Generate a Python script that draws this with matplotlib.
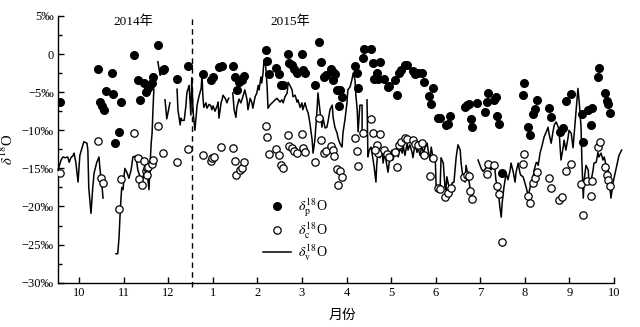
import numpy as np
import matplotlib
matplotlib.use("Agg")
import matplotlib.pyplot as plt
from matplotlib.ticker import MultipleLocator, FixedLocator

plt.rcParams['font.family'] = ['Liberation Serif', 'Noto Sans CJK SC', 'DejaVu Sans']
plt.rcParams['mathtext.fontset'] = 'stix'

# x = month position (0 = Oct 2014, 3 = Jan 2015, 12 = Oct 2015), values in permil
p_month = [-0.43, 0.43, 0.47, 0.52, 0.56, 0.61, 0.74, 0.76, 0.81, 0.90, 0.94, 1.23, 1.32, 1.37,
           1.46, 1.50, 1.55, 1.59, 1.64, 1.66, 1.77, 1.88, 1.91, 2.20, 2.45, 2.78, 2.96, 3.01,
           3.14, 3.21, 3.45, 3.50, 3.54, 3.59, 3.66, 3.70, 4.19, 4.22, 4.26, 4.42, 4.49, 4.53,
           4.58, 4.69, 4.71, 4.78, 4.82, 4.89, 5.00, 5.02, 5.07, 5.29, 5.38, 5.43, 5.50, 5.54,
           5.65, 5.70, 5.74, 5.70, 5.79, 5.85, 5.83, 5.90, 6.19, 6.24, 6.26, 6.37, 6.39, 6.55,
           6.59, 6.75, 6.68, 6.62, 6.71, 6.84, 6.93, 6.95, 7.13, 7.09, 7.18, 7.22, 7.31, 7.36,
           7.49, 7.54, 7.60, 7.69, 7.74, 7.85, 7.90, 7.94, 8.05, 8.10, 8.23, 8.28, 8.32, 8.66,
           8.70, 8.75, 8.79, 8.82, 8.93, 9.11, 9.15, 9.17, 9.31, 9.35, 9.38, 9.42, 9.49, 9.96,
           9.98, 10.07, 10.12, 10.18, 10.23, 10.27, 10.54, 10.59, 10.79, 10.86, 10.92, 11.04,
           11.28, 11.31, 11.42, 11.49, 11.51, 11.64, 11.66, 11.80, 11.84, 11.87, 11.91]
p_val = [-6.3, -2.0, -6.3, -6.8, -7.3, -4.9, -2.5, -5.2, -11.7, -10.2, -6.3, -0.1, -3.4, -6.0,
         -3.8, -5.0, -4.5, -4.1, -3.8, -3.0, 1.2, -2.1, -2.0, -3.3, -1.6, -2.6, -3.4, -3.0,
         -1.7, -1.6, -1.6, -3.0, -4.7, -3.7, -3.4, -2.9, 0.5, -0.9, -2.6, -1.8, -2.6, -4.1,
         -4.1, 0.0, -1.2, -1.4, -2.0, -2.5, 0.0, -2.1, -2.5, -4.1, 1.6, -1.0, -3.0, -2.8,
         -2.0, -2.4, -2.6, -3.4, -4.7, -4.7, -6.8, -5.6, -1.6, -2.5, -4.5, -0.5, 0.7, 0.7,
         -1.2, -1.0, -2.5, -3.3, -3.3, -3.3, -4.3, -4.2, -5.4, -3.4, -2.5, -2.1, -1.4, -1.4,
         -2.2, -2.6, -2.5, -2.5, -3.7, -5.5, -6.6, -4.5, -8.4, -8.4, -9.3, -9.2, -8.1, -7.0,
         -6.7, -6.6, -8.5, -9.6, -6.4, -7.6, -6.3, -5.1, -6.0, -5.6, -8.1, -9.2, -15.6, -5.4,
         -3.8, -9.6, -10.6, -7.9, -7.2, -6.0, -7.1, -8.3, -10.2, -9.7, -6.2, -5.2,
         -7.9, -11.6, -7.3, -9.3, -7.1, -3.0, -1.8, -5.1, -6.2, -6.6, -7.7]

c_month = [-0.43, 0.43, 0.49, 0.54, 0.90, 0.94, 1.23, 1.32, 1.35, 1.41, 1.46, 1.50, 1.53, 1.55,
           1.53, 1.64, 1.66, 1.77, 1.88, 2.20, 2.45, 2.78, 2.96, 2.98, 3.03, 3.19, 3.45, 3.50,
           3.52, 3.61, 3.66, 3.70, 4.19, 4.22, 4.26, 4.42, 4.49, 4.53, 4.58, 4.69, 4.71, 4.78,
           4.82, 4.89, 5.00, 5.02, 5.07, 5.29, 5.38, 5.43, 5.50, 5.54, 5.65, 5.70, 5.72, 5.79,
           5.85, 5.90, 5.81, 6.19, 6.24, 6.26, 6.37, 6.55, 6.59, 6.75, 6.68, 6.71, 6.64, 6.84,
           6.91, 6.95, 7.13, 7.09, 7.18, 7.22, 7.31, 7.36, 7.49, 7.54, 7.60, 7.69, 7.74, 7.87,
           7.94, 8.05, 8.10, 8.21, 8.28, 8.34, 8.64, 8.70, 8.75, 8.77, 8.82, 9.17, 9.15, 9.31,
           9.38, 9.42, 9.49, 9.96, 9.98, 10.07, 10.12, 10.18, 10.23, 10.27, 10.54, 10.59, 10.77,
           10.83, 10.92, 11.04, 11.26, 11.31, 11.40, 11.51, 11.49, 11.64, 11.69, 11.80, 11.84,
           11.87, 11.91]
c_val = [-15.6, -11.4, -16.3, -16.9, -20.3, -16.4, -10.4, -13.6, -16.4, -17.2, -14.0, -15.4, -15.0,
         -14.8, -15.9, -14.4, -13.9, -9.4, -13.0, -14.2, -12.5, -13.3, -14.0, -13.6, -13.5, -12.2,
         -12.3, -14.0, -15.9, -15.2, -15.0, -14.2, -9.4, -10.9, -13.1, -12.5, -13.3, -14.6, -15.0,
         -10.6, -12.1, -12.3, -12.7, -13.0, -10.5, -12.3, -12.9, -14.2, -8.4, -11.3, -13.0, -12.7,
         -12.1, -12.6, -13.4, -15.1, -15.4, -16.1, -17.2, -11.0, -12.7, -14.7, -10.4, -8.5, -10.4,
         -10.5, -11.9, -13.0, -12.6, -12.6, -13.1, -13.5, -14.8, -12.9, -11.9, -11.5, -11.0, -11.2,
         -11.3, -11.8, -11.9, -11.7, -13.3, -16.0, -13.6, -17.6, -17.7, -18.8, -18.2, -17.6, -16.1,
         -15.9, -16.0, -18.0, -19.0, -14.4, -15.7, -14.6, -17.3, -18.4, -24.7, -14.4, -13.1, -18.6,
         -19.6, -16.9, -16.3, -15.5, -16.3, -17.6, -19.2, -18.8, -15.4, -14.4, -17.1, -21.1, -16.7,
         -16.7, -18.6, -12.2, -11.5, -14.8, -15.9, -16.5, -17.3]

# vapour series, nan = no data
nan = np.nan
v_month = [-0.47, -0.40, -0.36, -0.31, -0.25, -0.22, -0.18, -0.13, -0.11, -0.07, -0.02, 0.02, 0.07,
           0.11, 0.18, 0.20, 0.22, 0.27, 0.31, 0.34, 0.40, 0.45, 0.47, 0.52, 0.54, nan,
           0.83, 0.87, 0.90, 0.92, 0.94, 0.96, 0.99, 1.01, 1.03, 1.08, 1.12, 1.17, 1.21, 1.26, 1.30,
           1.32, 1.37, 1.41, 1.44, 1.48, 1.53, 1.57, 1.59, 1.62, 1.64, 1.66, 1.68, nan,
           1.77, 1.82, 1.88, 1.93, nan,
           1.93, 1.97, 2.04, nan,
           2.20, 2.22, 2.27, 2.29, 2.31, 2.36, 2.40, 2.42, 2.47, 2.51, 2.53, 2.56, 2.60, 2.62, 2.65,
           2.69, 2.74, 2.76, 2.78, 2.80, 2.85, 2.87, 2.92, 2.96, 2.98, 3.01, 3.05, 3.10, 3.12, 3.14,
           3.19, 3.21, 3.23, 3.28, 3.32, 3.34, 3.36, nan,
           3.45, 3.48, 3.52, 3.54, 3.59, 3.63, 3.66, 3.72, 3.77, 3.79, 3.84, 3.88, 3.90, 3.95, 3.99,
           4.02, 4.04, 4.08, 4.10, 4.13, 4.15, 4.19, 4.22, 4.24, 4.28, 4.33, 4.40, 4.44, 4.51, 4.55,
           4.58, 4.62, 4.67, 4.69, 4.73, 4.78, 4.80, 4.85, 4.89, 4.91, 4.96, 5.00, 5.02, 5.07, 5.11,
           5.14, 5.18, 5.23, 5.25, 5.29, 5.34, 5.36, 5.41, 5.45, 5.47, 5.52, 5.56, 5.59, 5.63, 5.68,
           5.70, 5.74, 5.79, 5.81, 5.85, 5.90, 5.92, 5.97, 6.01, 6.03, 6.08, 6.12, 6.15, 6.19, 6.21,
           6.24, 6.26, 6.30, 6.35, 6.35, nan,
           6.46, 6.48, 6.51, 6.55, 6.57, 6.62, 6.66, 6.68, 6.71, 6.75, 6.80, 6.82, 6.86, 6.91, 6.93,
           6.98, 7.02, 7.04, 7.09, 7.13, 7.16, 7.20, 7.25, 7.27, 7.31, 7.36, 7.38, 7.42, 7.47, 7.49,
           7.54, 7.58, 7.60, 7.65, 7.69, 7.72, 7.76, 7.81, 7.83, 7.87, 7.90, 7.94, 7.99, 8.01, 8.05,
           8.10, 8.12, 8.17, 8.21, 8.23, 8.25, 8.30, 8.34, 8.37, 8.41, 8.46, 8.50, 8.55, 8.57, 8.61,
           8.66, 8.68, 8.73, 8.77, 8.79, 8.82, nan,
           8.95, 9.02, 9.06, 9.11, 9.15, 9.22, 9.24, 9.29, 9.33, 9.35, 9.40, 9.44, 9.47, 9.49, 9.53,
           9.58, 9.62, 9.67, 9.69, 9.74, 9.78, 9.80, 9.85, 9.89, 9.91, 9.96, 9.98, 10.03, 10.07,
           10.09, 10.14, 10.18, 10.21, 10.25, 10.27, 10.30, 10.34, 10.39, 10.43, 10.48, 10.52,
           10.54, 10.59, 10.63, 10.66, 10.70, 10.75, 10.77, 10.79, 10.81, 10.86, 10.88, 10.92,
           10.97, 10.99, 11.04, 11.08, 11.10, 11.15, 11.19, 11.22, 11.26, 11.28, 11.31, 11.33,
           11.37, 11.42, 11.44, 11.48, 11.53, 11.55, 11.60, 11.64, 11.66, 11.71, 11.75, 11.78,
           11.82, 11.87, 11.89, 11.93, 11.98, 12.04, 12.11, 12.17]
v_val = [-15.2, -13.9, -13.5, -13.6, -13.5, -14.2, -13.6, -13.3, -13.0, -14.2, -16.8, -13.3, -12.3,
         -11.5, -11.7, -12.6, -17.5, -20.9, -17.5, -15.6, -14.2, -13.5, -15.0, -17.5, -18.9, nan,
         -26.2, -26.2, -24.0, -21.4, -19.2, -17.5, -17.8, -16.1, -15.0, -15.6, -16.3, -15.2, -13.5,
         -13.4, -14.3, -15.2, -16.1, -17.5, -16.1, -15.0, -15.6, -17.8, -15.2, -11.7, -10.4, -7.3,
         -4.6, nan,
         -1.0, -2.8, -2.1, -1.8, nan,
         -6.0, -8.5, -6.4, nan,
         -4.6, -7.3, -9.3, -8.4, -8.7, -8.7, -6.7, -5.1, -4.1, -8.0, -3.1, -7.6, -10.0, -8.7, -6.7,
         -5.6, -4.5, -2.8, -5.6, -7.0, -6.4, -7.1, -6.6, -6.8, -7.3, -6.8, -7.5, -6.8, -6.3, -8.4,
         -6.3, -6.0, -5.4, -5.8, -6.4, -6.0, -5.8, nan,
         -5.1, -7.3, -8.3, -7.0, -5.9, -6.4, -5.9, -4.7, -6.0, -7.3, -5.8, -6.4, -7.1, -5.6, -5.1,
         -4.1, -4.7, -3.0, -3.8, -2.4, -0.8, -1.7, -4.3, -7.1, -6.7, -6.4, -6.0, -5.8, -6.3, -6.0,
         -6.4, -5.6, -5.1, -3.7, -4.1, -4.7, -5.6, -5.4, -6.3, -6.0, -7.0, -6.4, -7.3, -6.4, -7.3,
         -7.7, -9.1, -11.3, -13.0, -11.3, -7.3, -5.1, -7.7, -9.6, -8.3, -9.7, -9.6, -8.7, -7.3, -6.7,
         -8.3, -9.6, -10.4, -11.0, -11.7, -12.2, -10.4, -8.4, -6.4, -4.7, -4.3, -3.4, -2.5, -3.4,
         -5.4, -7.3, -10.2, -6.7, -6.7, -10.0, nan,
         -6.0, -13.5, -12.6, -12.2, -12.9, -14.8, -16.8, -14.3, -12.6, -13.6, -12.6, -14.3, -13.0,
         -14.8, -15.5, -13.3, -12.6, -13.9, -12.9, -12.2, -13.5, -12.3, -13.0, -11.9, -13.3, -11.7,
         -12.6, -11.9, -12.9, -13.6, -11.7, -12.9, -12.2, -13.3, -11.9, -13.0, -12.3, -11.7, -12.6,
         -13.9, -12.2, -13.6, -13.5, -17.5, -17.6, -17.5, -13.6, -14.3, -17.5, -17.8, -16.1, -17.5,
         -17.5, -16.9, -16.8, -13.5, -11.9, -12.6, -14.3, -16.1, -16.8, -14.6, -16.1, -17.5, -18.2,
         -18.8, nan,
         -13.9, -15.0, -15.4, -15.1, -14.8, -15.0, -15.2, -14.8, -15.2, -16.5, -17.8, -20.1, -21.4,
         -19.6, -17.5, -15.6, -16.5, -15.2, -14.3, -15.5, -16.8, -15.6, -14.3, -15.6, -15.9, -16.1,
         -16.5, -17.5, -18.5, -18.2, -16.9, -16.3, -15.2, -14.3, -14.2, -14.6, -13.0, -11.9, -10.9,
         -10.2, -9.6, -10.4, -11.7, -10.2, -9.3, -8.9, -9.6, -10.2, -12.2, -13.9, -12.2, -11.3,
         -12.6, -10.9, -10.0, -10.4, -12.3, -10.9, -7.3, -4.5, -6.4, -9.6, -14.3, -18.9, -16.5,
         -14.6, -15.2, -16.9, -16.8, -15.2, -14.3, -14.2, -12.9, -13.5, -13.0, -13.9, -13.5, -14.6,
         -15.2, -16.3, -18.9, -16.8, -15.2, -13.3, -12.6]

month_ticks = list(range(13))
month_labels = ['10', '11', '12', '1', '2', '3', '4', '5', '6', '7', '8', '9', '10']
y_ticks = [5, 0, -5, -10, -15, -20, -25, -30]
y_labels = ['5‰', '0', '\u22125‰', '\u221210‰', '\u221215‰', '\u221220‰', '\u221225‰', '\u221230‰']
year_split = 2.53

fig = plt.figure(figsize=(6.4, 3.27), dpi=100)
ax = fig.add_axes([0.0906, 0.1355, 0.8828, 0.8156])

ax.plot(v_month, v_val, color='k', lw=1.1, label=r'$\delta_{\rm v}^{18}$O', clip_on=False, zorder=2)
ax.plot(c_month, c_val, 'o', ms=5.3, mfc='white', mec='k', mew=0.9, ls='none',
        label=r'$\delta_{\rm c}^{18}$O', zorder=3)
ax.plot(p_month, p_val, 'o', ms=5.5, color='k', ls='none', label=r'$\delta_{\rm p}^{18}$O', zorder=4)

ax.axvline(year_split, ymin=-0.018, ymax=1.0, color='k', ls=(0, (4, 3)), lw=1.0, clip_on=False)

ax.set_xlim(-0.47, 12.2)
ax.set_ylim(-30, 5)
ax.spines['top'].set_visible(False)
ax.spines['right'].set_visible(False)
ax.spines['bottom'].set_bounds(-0.47, 12)
ax.spines['left'].set_linewidth(1.0)
ax.spines['bottom'].set_linewidth(1.0)

ax.xaxis.set_major_locator(FixedLocator(month_ticks))
ax.set_xticklabels(month_labels, fontsize=9)
ax.set_yticks(y_ticks)
ax.set_yticklabels(y_labels, fontsize=9)
ax.yaxis.set_minor_locator(MultipleLocator(2.5))
ax.tick_params(axis='both', which='major', direction='in', length=4, width=1.0, pad=3)
ax.tick_params(axis='y', which='minor', direction='in', length=3, width=1.0)

ax.text(1.21, 4.2, '2014年', ha='center', va='center', fontsize=9.5)
ax.text(4.73, 4.2, '2015年', ha='center', va='center', fontsize=9.5)

ax.set_ylabel(r'$\delta^{18}$O', fontsize=10.5, labelpad=4)
ax.set_xlabel('月份', fontsize=10)
ax.xaxis.set_label_coords(0.504, -0.1)

handles, labels = ax.get_legend_handles_labels()
order = [2, 1, 0]
leg = ax.legend([handles[i] for i in order], [labels[i] for i in order],
                loc='upper left', bbox_to_anchor=(0.343, 0.365), frameon=False,
                fontsize=10, handlelength=2.0, labelspacing=0.15, handletextpad=0.5,
                borderpad=0.3)

fig.savefig('out.png', dpi=100)
